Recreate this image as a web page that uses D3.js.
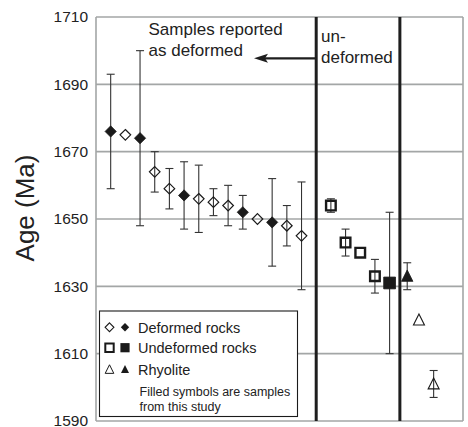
<!DOCTYPE html>
<html>
<head>
<meta charset="utf-8">
<script src="https://cdn.jsdelivr.net/npm/d3@7"></script>
<style>
  html, body { margin: 0; padding: 0; background: #fff; }
  svg { display: block; font-family: "Liberation Sans", Arial, Helvetica, sans-serif; }
</style>
</head>
<body>
<svg id="chart" width="468" height="427"></svg>
<script>
// ---- data ----
const yTicks = [1590, 1610, 1630, 1650, 1670, 1690, 1710];

const deformedX = [1, 2, 3, 4, 5, 6, 7, 8, 9, 10, 11, 12, 13, 14];
const deformedAge = [1676, 1675, 1674, 1664, 1659, 1657, 1656, 1655, 1654, 1652, 1650, 1649, 1648, 1645];
const deformedErr = [17, 0, 26, 6, 6, 10, 10, 4, 6, 5, 0, 13, 6, 16];
const deformedFilled = [1, 0, 1, 0, 0, 1, 0, 0, 0, 1, 0, 1, 0, 0];

const undeformedX = [16, 17, 18, 19, 20];
const undeformedAge = [1654, 1643, 1640, 1633, 1631];
const undeformedErr = [2, 4, 0, 5, 21];
const undeformedFilled = [0, 0, 0, 0, 1];

const rhyoliteX = [21.2, 22, 23];
const rhyoliteAge = [1633, 1620, 1601];
const rhyoliteErr = [4, 0, 4];
const rhyoliteFilled = [1, 0, 0];

const separators = [15, 20.7];

const legendRows = [
  { label: "Deformed rocks", shape: "diamond" },
  { label: "Undeformed rocks", shape: "square" },
  { label: "Rhyolite", shape: "triangle" }
];
const legendNote = ["Filled symbols are samples", "from this study"];

// ---- chart ----
const svg = d3.select("#chart");
const x = d3.scaleLinear().domain([0, 25]).range([96, 463]);
const y = d3.scaleLinear().domain([1590, 1710]).range([421, 17]);

// grid lines
svg.append("g").selectAll("line").data(yTicks).join("line")
  .attr("x1", x(0)).attr("x2", x(25))
  .attr("y1", d => y(d)).attr("y2", d => y(d))
  .attr("stroke", "#a3a6a6").attr("stroke-width", 1.6);
// plot border (left/right)
svg.append("line").attr("x1", x(0)).attr("x2", x(0)).attr("y1", y(1710)).attr("y2", y(1590))
  .attr("stroke", "#a3a6a6").attr("stroke-width", 1.6);
svg.append("line").attr("x1", x(25)).attr("x2", x(25)).attr("y1", y(1710)).attr("y2", y(1590))
  .attr("stroke", "#a3a6a6").attr("stroke-width", 1.6);

// y axis via d3 axis (labels only)
const yAxis = d3.axisLeft(y).tickValues(yTicks).tickSize(0).tickPadding(8).tickFormat(d3.format("d"));
const ag = svg.append("g").attr("transform", `translate(${x(0)},0)`).call(yAxis);
ag.select(".domain").remove();
ag.selectAll("text").attr("font-size", 15.5).attr("fill", "#222")
  .attr("font-family", "'Liberation Sans', Arial, sans-serif");

svg.append("text")
  .attr("transform", `translate(34,208) rotate(-90)`)
  .attr("text-anchor", "middle")
  .attr("font-size", 26).attr("fill", "#222")
  .text("Age (Ma)");

// separators
svg.append("g").selectAll("line").data(separators).join("line")
  .attr("x1", d => x(d)).attr("x2", d => x(d))
  .attr("y1", y(1710)).attr("y2", y(1590))
  .attr("stroke", "#1e1e1e").attr("stroke-width", 3);

// annotations
const ann = svg.append("g").attr("font-size", 17).attr("fill", "#222");
ann.append("text").attr("x", 148.5).attr("y", 35).text("Samples reported");
ann.append("text").attr("x", 148.5).attr("y", 55.5).text("as deformed");
ann.append("text").attr("x", 321).attr("y", 41.5).text("un-");
ann.append("text").attr("x", 321).attr("y", 62.5).text("deformed");
// arrow
svg.append("line").attr("x1", x(separators[0])).attr("x2", 262).attr("y1", 58.3).attr("y2", 58.3)
  .attr("stroke", "#1e1e1e").attr("stroke-width", 2.2);
svg.append("path").attr("d", "M254,58.3 L268,53.8 L265,58.3 L268,62.8 Z").attr("fill", "#1e1e1e");

// marker paths
function shapePath(shape, r) {
  if (shape === "diamond") return `M0,${-r} L${r},0 L0,${r} L${-r},0 Z`;
  if (shape === "square") return `M${-r},${-r} H${r} V${r} H${-r} Z`;
  const h = r * 2;
  return `M0,${-h * 0.55} L${r},${h * 0.45} L${-r},${h * 0.45} Z`;
}

function drawSeries(xs, ages, errs, filled, shape, opts) {
  const data = xs.map((d, i) => ({ x: d, age: ages[i], err: errs[i], filled: filled[i] }));
  const g = svg.append("g");
  const eb = g.selectAll("g.eb").data(data.filter(d => d.err > 0)).join("g")
    .attr("stroke", "#333").attr("stroke-width", 1.1);
  eb.append("line").attr("x1", d => x(d.x)).attr("x2", d => x(d.x))
    .attr("y1", d => y(d.age + d.err)).attr("y2", d => y(d.age - d.err));
  eb.append("line").attr("x1", d => x(d.x) - 4).attr("x2", d => x(d.x) + 4)
    .attr("y1", d => y(d.age + d.err)).attr("y2", d => y(d.age + d.err));
  eb.append("line").attr("x1", d => x(d.x) - 4).attr("x2", d => x(d.x) + 4)
    .attr("y1", d => y(d.age - d.err)).attr("y2", d => y(d.age - d.err));
  g.selectAll("path").data(data).join("path")
    .attr("transform", d => `translate(${x(d.x)},${y(d.age)})`)
    .attr("d", d => shapePath(shape, d.filled ? opts.rf : opts.ro))
    .attr("fill", d => d.filled ? "#1a1a1a" : "none")
    .attr("stroke", "#1a1a1a")
    .attr("stroke-width", d => d.filled ? 0.8 : opts.sw)
    .attr("stroke-linejoin", "miter");
}

drawSeries(deformedX, deformedAge, deformedErr, deformedFilled, "diamond", { ro: 5.3, rf: 5.6, sw: 1.2 });
drawSeries(undeformedX, undeformedAge, undeformedErr, undeformedFilled, "square", { ro: 4.8, rf: 5.9, sw: 2.4 });
drawSeries(rhyoliteX, rhyoliteAge, rhyoliteErr, rhyoliteFilled, "triangle", { ro: 5.5, rf: 5.7, sw: 1.1 });

// legend
const lg = svg.append("g");
lg.append("rect").attr("x", 99.5).attr("y", 311).attr("width", 198).attr("height", 105.5)
  .attr("fill", "#fff").attr("stroke", "#1a1a1a").attr("stroke-width", 1.1);
const rowY = [327.3, 347.7, 369.5];
const legR = { diamond: [4.4, 4.2], square: [4.2, 4.6], triangle: [4.3, 4.0] };
const legSW = { diamond: 1.1, square: 2.0, triangle: 1.0 };
legendRows.forEach((r, i) => {
  lg.append("path").attr("transform", `translate(109.5,${rowY[i]})`)
    .attr("d", shapePath(r.shape, legR[r.shape][0]))
    .attr("fill", "none").attr("stroke", "#1a1a1a").attr("stroke-width", legSW[r.shape]);
  lg.append("path").attr("transform", `translate(125,${rowY[i]})`)
    .attr("d", shapePath(r.shape, legR[r.shape][1]))
    .attr("fill", "#1a1a1a");
  lg.append("text").attr("x", 138).attr("y", rowY[i]).attr("dy", "0.36em")
    .attr("font-size", 14.5).attr("fill", "#222").text(r.label);
});
legendNote.forEach((t, i) => {
  lg.append("text").attr("x", 139.5).attr("y", 391.7 + i * 15).attr("dy", "0.36em")
    .attr("font-size", 12.5).attr("fill", "#222").text(t);
});
</script>
</body>
</html>
